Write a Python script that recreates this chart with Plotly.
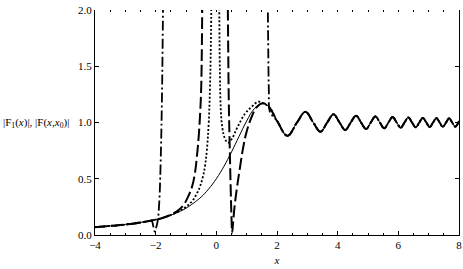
import plotly.graph_objects as go

# exact |F1(x)|
exact_x = [-4.0, -3.75, -3.5, -3.25, -3.0, -2.75, -2.5, -2.25, -2.0, -1.75,
           -1.5, -1.25, -1.0, -0.75, -0.5, -0.25, 0.0, 0.25, 0.5, 0.75,
           1.0, 1.25, 1.535, 1.75, 2.0, 2.345, 2.659, 2.939, 3.195, 3.432,
           3.654, 3.863, 4.061, 4.25, 4.431, 4.605, 4.772, 4.934, 5.091, 5.243,
           5.391, 5.534, 5.675, 5.811, 5.945, 6.076, 6.204, 6.329, 6.452, 6.572,
           6.691, 6.807, 6.922, 7.034, 7.145, 7.254, 7.362, 7.467, 7.572, 7.675,
           7.776, 7.877, 8.0]
exact_y = [0.070, 0.075, 0.081, 0.086, 0.093, 0.101, 0.111, 0.123, 0.137, 0.154,
           0.176, 0.203, 0.238, 0.284, 0.338, 0.410, 0.500, 0.610, 0.738, 0.877,
           1.013, 1.121, 1.171, 1.133, 1.015, 0.882, 1.0, 1.095, 1.0, 0.918,
           1.0, 1.073, 1.0, 0.933, 1.0, 1.061, 1.0, 0.942, 1.0, 1.054,
           1.0, 0.948, 1.0, 1.049, 1.0, 0.954, 1.0, 1.045, 1.0, 0.957,
           1.0, 1.041, 1.0, 0.960, 1.0, 1.039, 1.0, 0.962, 1.0, 1.037,
           1.0, 0.964, 1.013]

# dotted approximation
dot_left_x = [-1.5, -1.25, -1.0, -0.8, -0.64, -0.54, -0.44, -0.37, -0.31, -0.25, -0.21, -0.18, -0.16]
dot_left_y = [0.178, 0.21, 0.25, 0.30, 0.37, 0.43, 0.52, 0.62, 0.76, 1.0, 1.3, 1.7, 2.2]
dot_right_x = [0.09, 0.10, 0.12, 0.15, 0.2, 0.28, 0.38, 0.5, 0.7, 0.95, 1.17, 1.38]
dot_right_y = [2.3, 1.9, 1.4, 1.1, 0.95, 0.86, 0.82, 0.85, 0.96, 1.08, 1.14, 1.185]

# dashed approximation
dash_left_x = [-1.5, -1.3, -1.1, -0.95, -0.8, -0.7, -0.64, -0.58, -0.53, -0.5, -0.48, -0.46]
dash_left_y = [0.18, 0.21, 0.26, 0.33, 0.43, 0.56, 0.70, 0.88, 1.1, 1.3, 1.6, 2.2]
dash_right_x = [0.37, 0.39, 0.41, 0.44, 0.47, 0.50, 0.52, 0.55, 0.6, 0.68, 0.78, 0.88, 1.0, 1.18, 1.34]
dash_right_y = [2.3, 1.7, 1.2, 0.8, 0.45, 0.15, 0.02, 0.1, 0.25, 0.42, 0.6, 0.77, 0.92, 1.06, 1.14]

# dash-dot approximation
dd_left_x = [-2.13, -2.08, -2.03, -1.98, -1.93, -1.88, -1.84, -1.8, -1.77, -1.75]
dd_left_y = [0.125, 0.08, 0.03, 0.07, 0.13, 0.3, 0.6, 1.1, 1.7, 2.3]
dd_right_x = [1.69, 1.71, 1.73, 1.76, 1.85]
dd_right_y = [2.3, 1.7, 1.3, 1.1, 1.06]

x_ticks = [-4, -2, 0, 2, 4, 6, 8]
y_ticks = [0.0, 0.5, 1.0, 1.5, 2.0]


def build(lx, ly, rx, ry, left_cut, right_cut):
    xs = [x for x in exact_x if x <= left_cut]
    ys = [y for x, y in zip(exact_x, exact_y) if x <= left_cut]
    xs += lx + [None] + rx
    ys += ly + [None] + ry
    xs += [x for x in exact_x if x >= right_cut]
    ys += [y for x, y in zip(exact_x, exact_y) if x >= right_cut]
    return xs, ys


fig = go.Figure()
FONT = "Liberation Serif"

dx, dy = build(dot_left_x, dot_left_y, dot_right_x, dot_right_y, -1.75, 1.535)
ax, ay = build(dash_left_x, dash_left_y, dash_right_x, dash_right_y, -1.75, 1.535)
cx, cy = build(dd_left_x, dd_left_y, dd_right_x, dd_right_y, -2.25, 2.0)

SM = 1.1
fig.add_trace(go.Scatter(x=exact_x, y=exact_y, mode="lines", xaxis="x2",
                         line=dict(color="black", width=1, shape="spline", smoothing=1.2)))
fig.add_trace(go.Scatter(x=dx, y=dy, mode="lines", connectgaps=False,
                         line=dict(color="black", width=1.8, dash="2px,2px", shape="spline", smoothing=SM)))
fig.add_trace(go.Scatter(x=ax, y=ay, mode="lines", connectgaps=False,
                         line=dict(color="black", width=2, dash="12px,4px", shape="spline", smoothing=SM)))
fig.add_trace(go.Scatter(x=cx, y=cy, mode="lines", connectgaps=False,
                         line=dict(color="black", width=1.8, dash="10px,3px,2px,3px", shape="spline", smoothing=SM)))

fig.update_layout(
    width=463, height=269,
    margin=dict(l=95, r=4, t=10, b=34, autoexpand=False),
    paper_bgcolor="white", plot_bgcolor="white",
    showlegend=False,
    font=dict(family=FONT, size=11, color="black"),
    xaxis=dict(range=[-4, 8], tickvals=x_ticks, showgrid=False, zeroline=False,
               showline=True, linecolor="black", linewidth=1,
               ticks="inside", ticklen=4, tickcolor="black",
               minor=dict(dtick=0.5, tick0=-4, ticks="inside", ticklen=2, tickcolor="black"),
               title=dict(text="<i>x</i>", standoff=6, font=dict(size=11))),
    xaxis2=dict(range=[-4, 8], overlaying="x", side="top", showline=False,
                showgrid=False, zeroline=False, showticklabels=False,
                tickvals=x_ticks, ticks="inside", ticklen=2, tickcolor="black",
                minor=dict(dtick=0.5, tick0=-4, ticks="inside", ticklen=2, tickcolor="black")),
    yaxis=dict(range=[0, 2], tickvals=y_ticks, tickformat=".1f", showgrid=False, zeroline=False,
               showline=True, linecolor="black", linewidth=1, mirror="ticks",
               ticks="inside", ticklen=4, tickcolor="black"),
)
fig.add_annotation(text="|F<sub>1</sub>(<i>x</i>)|, |F(<i>x</i>,<i>x</i><sub>0</sub>)|",
                   xref="paper", yref="y", x=-0.066, y=1.0, xanchor="right", yanchor="middle",
                   showarrow=False, font=dict(size=11, family=FONT))

fig.write_html("out.html", config={"displayModeBar": False},
               post_script="document.body.style.margin='0px';")
